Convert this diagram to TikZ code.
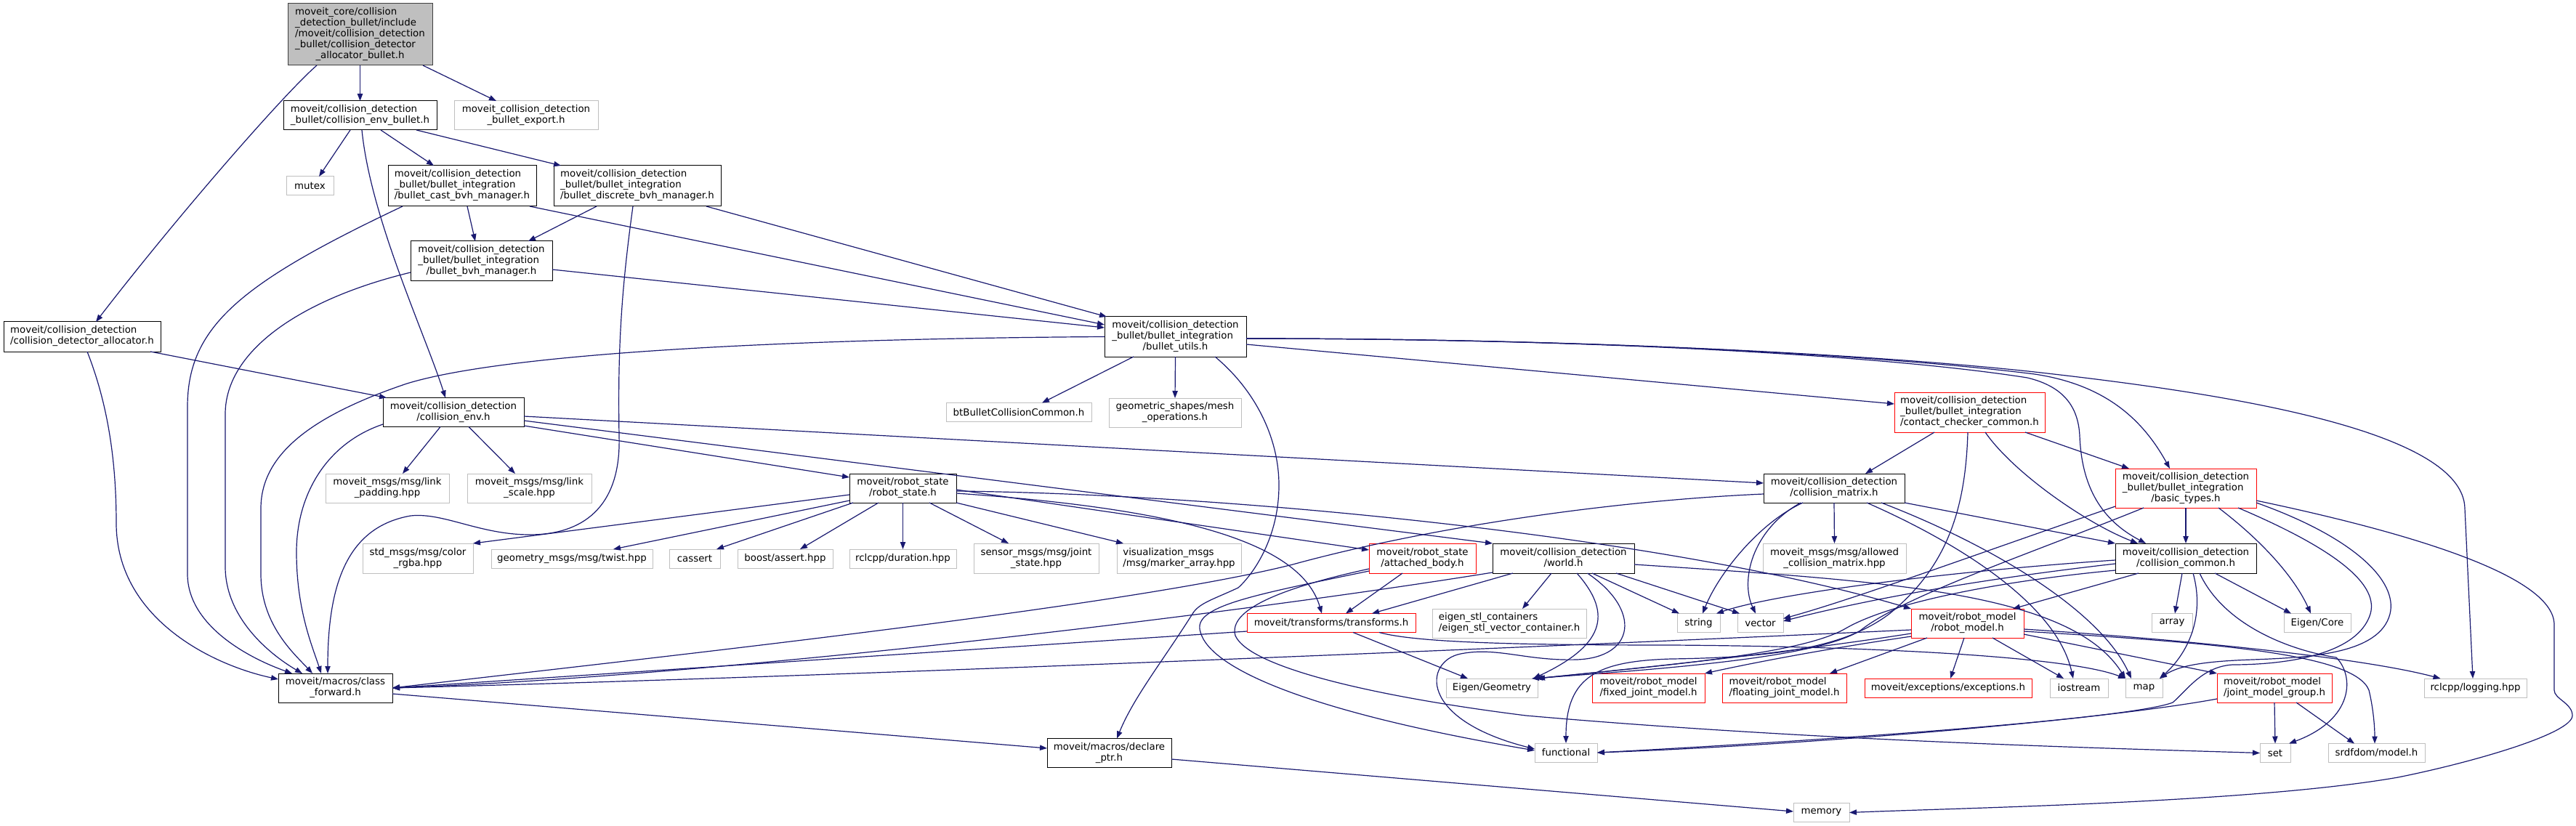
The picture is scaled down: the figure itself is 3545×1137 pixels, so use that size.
\documentclass[tikz,border=0pt]{standalone}
\usepackage{fontspec}
\setmainfont{DejaVu Sans}
\usetikzlibrary{arrows.meta}
\definecolor{eb}{HTML}{191970}
\definecolor{xg}{HTML}{BFBFBF}
\definecolor{rootfill}{HTML}{BFBFBF}
\definecolor{rootdraw}{HTML}{404040}
\definecolor{rr}{HTML}{FF0000}
\newcommand{\mlab}[2]{\begin{tabular}{@{}l@{}}#1\\\multicolumn{1}{@{}c@{}}{#2}\end{tabular}}
\begin{document}
\begin{tikzpicture}[x=0.75pt,y=-0.75pt,
  every node/.style={font=\fontsize{10pt}{11.25pt}\selectfont, inner sep=0pt, outer sep=0pt, rectangle, line width=0.75pt},
  sz/.style 2 args={minimum width={#1*0.75pt}, minimum height={#2*0.75pt}},
  nbox/.style={draw=black, fill=white},
  xbox/.style={draw=xg, fill=white},
  rbox/.style={draw=rr, fill=white},
  rootbox/.style={draw=rootdraw, fill=rootfill},
  dep/.style={draw=eb, line width=0.9pt, -{Triangle[length=7.5pt,width=5.5pt,fill=eb]}}]
\fill[white] (0,0) rectangle (3545,1137);
\useasboundingbox (0,0) rectangle (3545,1137);

% ---------------- nodes ----------------
\node[rootbox, sz={199}{85}] (root) at (495.5,47.5) {\mlab{moveit\_core/collision\\\_detection\_bullet/include\\/moveit/collision\_detection\\\_bullet/collision\_detector}{\_allocator\_bullet.h}};
\node[nbox, sz={211}{40}] (envb) at (495.5,159) {\mlab{moveit/collision\_detection}{\_bullet/collision\_env\_bullet.h}};
\node[xbox, sz={198}{40}] (export) at (724,159) {\mlab{moveit\_collision\_detection}{\_bullet\_export.h}};
\node[xbox, sz={65}{26}] (mutex) at (426.5,256) {mutex};
\node[nbox, sz={204}{56}] (cast) at (636,256) {\mlab{moveit/collision\_detection\\\_bullet/bullet\_integration}{/bullet\_cast\_bvh\_manager.h}};
\node[nbox, sz={230}{56}] (disc) at (877,256) {\mlab{moveit/collision\_detection\\\_bullet/bullet\_integration}{/bullet\_discrete\_bvh\_manager.h}};
\node[nbox, sz={195}{55}] (bvh) at (662.5,359.5) {\mlab{moveit/collision\_detection\\\_bullet/bullet\_integration}{/bullet\_bvh\_manager.h}};
\node[nbox, sz={216}{41}] (alloc) at (113,463.5) {\mlab{moveit/collision\_detection}{/collision\_detector\_allocator.h}};
\node[nbox, sz={195}{55}] (utils) at (1617.5,463.5) {\mlab{moveit/collision\_detection\\\_bullet/bullet\_integration}{/bullet\_utils.h}};
\node[xbox, sz={200}{26}] (btb) at (1402,567.5) {btBulletCollisionCommon.h};
\node[xbox, sz={182}{40}] (geom) at (1617,568) {\mlab{geometric\_shapes/mesh}{\_operations.h}};
\node[rbox, sz={207}{55}] (contact) at (2710.5,567.5) {\mlab{moveit/collision\_detection\\\_bullet/bullet\_integration}{/contact\_checker\_common.h}};
\node[nbox, sz={194}{40}] (cenv) at (624,567.5) {\mlab{moveit/collision\_detection}{/collision\_env.h}};
\node[xbox, sz={170}{40}] (lpad) at (533,672) {\mlab{moveit\_msgs/msg/link}{\_padding.hpp}};
\node[xbox, sz={171}{40}] (lscale) at (728.5,672) {\mlab{moveit\_msgs/msg/link}{\_scale.hpp}};
\node[nbox, sz={147}{40}] (rstate) at (1242.5,672) {\mlab{moveit/robot\_state}{/robot\_state.h}};
\node[nbox, sz={194}{40}] (cmatrix) at (2524,672) {\mlab{moveit/collision\_detection}{/collision\_matrix.h}};
\node[rbox, sz={194}{54}] (btypes) at (3008,672) {\mlab{moveit/collision\_detection\\\_bullet/bullet\_integration}{/basic\_types.h}};
\node[xbox, sz={152}{41}] (rgba) at (575,768.5) {\mlab{std\_msgs/msg/color}{\_rgba.hpp}};
\node[xbox, sz={222}{26}] (twist) at (787,769) {geometry\_msgs/msg/twist.hpp};
\node[xbox, sz={70}{26}] (cassert) at (956,769) {cassert};
\node[xbox, sz={131}{26}] (bassert) at (1080.5,769) {boost/assert.hpp};
\node[xbox, sz={147}{26}] (dur) at (1242.5,769) {rclcpp/duration.hpp};
\node[xbox, sz={172}{41}] (jstate) at (1426,768.5) {\mlab{sensor\_msgs/msg/joint}{\_state.hpp}};
\node[xbox, sz={171}{41}] (marker) at (1622.5,768.5) {\mlab{visualization\_msgs}{/msg/marker\_array.hpp}};
\node[rbox, sz={147}{41}] (abody) at (1957.5,768.5) {\mlab{moveit/robot\_state}{/attached\_body.h}};
\node[nbox, sz={195}{41}] (world) at (2151.5,768.5) {\mlab{moveit/collision\_detection}{/world.h}};
\node[xbox, sz={197}{41}] (allowed) at (2524.5,768.5) {\mlab{moveit\_msgs/msg/allowed}{\_collision\_matrix.hpp}};
\node[nbox, sz={194}{41}] (ccommon) at (3008,768.5) {\mlab{moveit/collision\_detection}{/collision\_common.h}};
\node[rbox, sz={232}{26}] (transf) at (1832,857.5) {moveit/transforms/transforms.h};
\node[xbox, sz={212}{40}] (estl) at (2077,858) {\mlab{eigen\_stl\_containers}{/eigen\_stl\_vector\_container.h}};
\node[xbox, sz={59}{26}] (string) at (2337.5,857.5) {string};
\node[xbox, sz={63}{26}] (vector) at (2422.5,857.5) {vector};
\node[rbox, sz={155}{40}] (rmodel) at (2707.5,858) {\mlab{moveit/robot\_model}{/robot\_model.h}};
\node[xbox, sz={56}{26}] (array) at (2989,857.5) {array};
\node[xbox, sz={92}{26}] (ecore) at (3189,857.5) {Eigen/Core};
\node[xbox, sz={126}{26}] (egeom) at (2053,947) {Eigen/Geometry};
\node[rbox, sz={155}{40}] (fixed) at (2268.5,947) {\mlab{moveit/robot\_model}{/fixed\_joint\_model.h}};
\node[rbox, sz={171}{40}] (floating) at (2455.5,947) {\mlab{moveit/robot\_model}{/floating\_joint\_model.h}};
\node[rbox, sz={230}{26}] (exc) at (2681,947) {moveit/exceptions/exceptions.h};
\node[xbox, sz={80}{26}] (iostream) at (2861,947) {iostream};
\node[xbox, sz={51}{26}] (map) at (2950.5,947) {map};
\node[rbox, sz={158}{40}] (jmg) at (3130,947) {\mlab{moveit/robot\_model}{/joint\_model\_group.h}};
\node[xbox, sz={141}{26}] (logging) at (3406.5,947) {rclcpp/logging.hpp};
\node[nbox, sz={157}{40}] (cfwd) at (461.5,947) {\mlab{moveit/macros/class}{\_forward.h}};
\node[xbox, sz={86}{26}] (func) at (2155,1036) {functional};
\node[xbox, sz={42}{26}] (set) at (3131,1036.5) {set};
\node[xbox, sz={133}{26}] (srdf) at (3270.5,1036.5) {srdfdom/model.h};
\node[nbox, sz={171}{40}] (declp) at (1526.5,1036.5) {\mlab{moveit/macros/declare}{\_ptr.h}};
\node[xbox, sz={77}{26}] (memory) at (2506.5,1118.5) {memory};

% ---------------- edges ----------------
% root
\draw[dep] (root.south) -- (envb.north);
\draw[dep] ([shift={(86.5,0)}]root.south) -- ([shift={(-41,0)}]export.north);
\draw[dep] ([shift={(-59.5,0)}]root.south) .. controls (395,125) and (250,290) .. ([shift={(19,0)}]alloc.north);
% collision_env_bullet
\draw[dep] ([shift={(-13.5,0)}]envb.south) -- ([shift={(12.5,0)}]mutex.north);
\draw[dep] ([shift={(28.5,0)}]envb.south) -- ([shift={(-39,0)}]cast.north);
\draw[dep] ([shift={(77.5,0)}]envb.south) -- ([shift={(-105,0)}]disc.north);
\draw[dep] ([shift={(2.5,0)}]envb.south) .. controls (510,300) and (585,460) .. ([shift={(-11,0)}]cenv.north);
% cast
\draw[dep] ([shift={(7,0)}]cast.south) -- ([shift={(-8.5,0)}]bvh.north);
\draw[dep] ([shift={(-82,0)}]cast.south) .. controls (330,390) and (258,450) .. (258,560) -- (258,790) .. controls (258,860) and (340,905) .. ([shift={(-59.5,0)}]cfwd.north);
\draw[dep] ([shift={(93,0)}]cast.south) -- ([shift={(0,-16.5)}]utils.west);
% discrete
\draw[dep] ([shift={(-56,0)}]disc.south) -- ([shift={(64.5,0)}]bvh.north);
\draw[dep] ([shift={(95,0)}]disc.south) -- ([shift={(-94.5,0)}]utils.north);
\draw[dep] ([shift={(-6,0)}]disc.south) .. controls (855,400) and (850,480) .. (852,600) .. controls (855,700) and (800,736) .. (729,736) .. controls (660,736) and (610,705) .. (565,710) .. controls (480,725) and (451,800) .. ([shift={(-10.5,0)}]cfwd.north);
% bvh
\draw[dep] ([shift={(0,11.5)}]bvh.east) -- ([shift={(0,-12.5)}]utils.west);
\draw[dep] ([shift={(0,15.5)}]bvh.west) .. controls (420,410) and (310,480) .. (310,570) -- (310,780) .. controls (310,850) and (370,900) .. ([shift={(-45.5,0)}]cfwd.north);
% allocator
\draw[dep] ([shift={(94,0)}]alloc.south) -- ([shift={(5,0)}]cenv.north west);
\draw[dep] ([shift={(7,0)}]alloc.south) .. controls (150,560) and (160,640) .. (160,720) .. controls (160,850) and (290,915) .. ([shift={(0,-12)}]cfwd.west);
% bullet_utils
\draw[dep] (utils.west) .. controls (1100,466) and (700,485) .. (560,528) .. controls (420,575) and (359,630) .. (359,700) -- (359,790) .. controls (359,860) and (405,900) .. ([shift={(-31.5,0)}]cfwd.north);
\draw[dep] ([shift={(-57.5,0)}]utils.south) -- ([shift={(32,0)}]btb.north);
\draw[dep] (utils.south) -- (geom.north);
\draw[dep] ([shift={(54.5,0)}]utils.south) .. controls (1725,535) and (1760,600) .. (1760,668) .. controls (1760,740) and (1725,790) .. (1704,809) .. controls (1670,825) and (1650,830) .. (1641,845) .. controls (1600,910) and (1560,960) .. ([shift={(10.5,0)}]declp.north);
\draw[dep] ([shift={(0,10.5)}]utils.east) -- ([shift={(0,-11.5)}]contact.west);
\draw[dep] ([shift={(0,2.5)}]utils.east) .. controls (2200,466) and (2600,490) .. (2800,515) .. controls (2900,530) and (2950,580) .. ([shift={(-22,0)}]btypes.north);
\draw[dep] ([shift={(0,2.5)}]utils.east) .. controls (2200,466) and (2600,490) .. (2790,520) .. controls (2840,532) and (2860,560) .. (2862,600) .. controls (2865,680) and (2900,720) .. ([shift={(-55,0)}]ccommon.north);
\draw[dep] ([shift={(0,2.5)}]utils.east) .. controls (2200,466) and (2600,490) .. (2800,512) .. controls (3050,540) and (3390,590) .. (3392,700) -- ([shift={(-3.5,0)}]logging.north);
% collision_env
\draw[dep] ([shift={(-18,0)}]cenv.south) -- ([shift={(21,0)}]lpad.north);
\draw[dep] ([shift={(21,0)}]cenv.south) -- ([shift={(-19.5,0)}]lscale.north);
\draw[dep] ([shift={(0,16.5)}]cenv.west) .. controls (450,610) and (408,680) .. (408,760) .. controls (408,840) and (430,890) .. ([shift={(-19.5,0)}]cfwd.north);
\draw[dep] ([shift={(0,18.5)}]cenv.east) -- ([shift={(0,-15)}]rstate.west);
\draw[dep] ([shift={(0,5.5)}]cenv.east) -- ([shift={(0,-7)}]cmatrix.west);
\draw[dep] ([shift={(0,11.5)}]cenv.east) -- (world.north west);
% robot_state
\draw[dep] ([shift={(0,9)}]rstate.west) -- (rgba.north east);
\draw[dep] ([shift={(0,17)}]rstate.west) -- ([shift={(57,0)}]twist.north);
\draw[dep] ([shift={(-68.5,0)}]rstate.south) -- ([shift={(30,0)}]cassert.north);
\draw[dep] ([shift={(-33.5,0)}]rstate.south) -- ([shift={(20.5,0)}]bassert.north);
\draw[dep] (rstate.south) -- (dur.north);
\draw[dep] ([shift={(36.5,0)}]rstate.south) -- ([shift={(-38,0)}]jstate.north);
\draw[dep] (rstate.south east) -- ([shift={(-76.5,0)}]marker.north);
\draw[dep] ([shift={(0,2)}]rstate.east) -- ([shift={(0,-11.5)}]abody.west);
\draw[dep] ([shift={(0,7)}]rstate.east) .. controls (1620,700) and (1790,745) .. ([shift={(-13,0)}]transf.north);
\draw[dep] ([shift={(0,4)}]rstate.east) .. controls (1700,680) and (2300,740) .. (rmodel.north west);
% contact_checker_common
\draw[dep] ([shift={(-48.5,0)}]contact.south) -- ([shift={(43,0)}]cmatrix.north);
\draw[dep] ([shift={(76.5,0)}]contact.south) -- ([shift={(-78,0)}]btypes.north);
\draw[dep] ([shift={(21.5,0)}]contact.south) .. controls (2770,650) and (2870,720) .. ([shift={(-66,0)}]ccommon.north);
\draw[dep] ([shift={(-2.5,0)}]contact.south) .. controls (2705,700) and (2680,780) .. (2600,845) .. controls (2540,890) and (2450,905) .. (2300,907) .. controls (2200,910) and (2155,930) .. (func.north);
% collision_matrix
\draw[dep] (cmatrix.south) -- (allowed.north);
\draw[dep] ([shift={(-43,0)}]cmatrix.south) .. controls (2420,720) and (2365,790) .. ([shift={(5.5,0)}]string.north);
\draw[dep] ([shift={(-46,0)}]cmatrix.south) .. controls (2410,730) and (2395,800) .. ([shift={(-6.5,0)}]vector.north);
\draw[dep] (cmatrix.south east) -- (ccommon.north west);
\draw[dep] ([shift={(0,8)}]cmatrix.west) .. controls (2200,690) and (1950,730) .. (1779,777) .. controls (1550,835) and (900,905) .. (cfwd.east);
\draw[dep] ([shift={(45,0)}]cmatrix.south) .. controls (2690,745) and (2830,830) .. ([shift={(-8,0)}]iostream.north);
\draw[dep] ([shift={(65,0)}]cmatrix.south) .. controls (2740,750) and (2890,840) .. ([shift={(-17.5,0)}]map.north);
% collision_common
\draw[dep] ([shift={(-5,0)}]ccommon.south) -- ([shift={(4,0)}]array.north);
\draw[dep] ([shift={(10,0)}]ccommon.south) .. controls (3035,850) and (3010,900) .. ([shift={(21.5,0)}]map.north);
\draw[dep] ([shift={(19,0)}]ccommon.south) .. controls (3060,860) and (3150,895) .. (3215,905) .. controls (3240,930) and (3240,990) .. ([shift={(-2,0)}]set.north east);
\draw[dep] ([shift={(40,0)}]ccommon.south) -- ([shift={(-36,0)}]ecore.north);
\draw[dep] ([shift={(-65,0)}]ccommon.south) -- ([shift={(62.5,0)}]rmodel.north);
\draw[dep] ([shift={(0,2.5)}]ccommon.west) .. controls (2700,785) and (2450,815) .. ([shift={(-5,0)}]string.north east);
\draw[dep] ([shift={(0,7.5)}]ccommon.west) .. controls (2700,800) and (2550,830) .. ([shift={(0,-2.5)}]vector.east);
\draw[dep] ([shift={(0,16.5)}]ccommon.west) .. controls (2750,800) and (2600,830) .. (2540,865) .. controls (2480,900) and (2300,915) .. ([shift={(-3,0)}]egeom.north east);
% basic_types
\draw[dep] (btypes.south) -- (ccommon.north);
\draw[dep] ([shift={(45,0)}]btypes.south) .. controls (3120,750) and (3160,800) .. ([shift={(-9,0)}]ecore.north);
\draw[dep] ([shift={(0,17)}]btypes.east) .. controls (3300,730) and (3515,790) .. (3515,860) -- (3515,950) .. controls (3515,962) and (3540,968) .. (3540,985) .. controls (3540,1010) and (3400,1050) .. (3300,1070) .. controls (3100,1105) and (2700,1112) .. (memory.east);
\draw[dep] ([shift={(72,0)}]btypes.south) .. controls (3200,750) and (3275,800) .. (3262,845) .. controls (3245,900) and (3150,915) .. (3072,915) .. controls (3030,918) and (3010,950) .. (2990,967) .. controls (2930,990) and (2500,1020) .. (func.east);
\draw[dep] ([shift={(0,20)}]btypes.east) .. controls (3240,740) and (3300,800) .. (3289,845) .. controls (3275,900) and (3180,905) .. (3100,908) .. controls (3040,910) and (3000,915) .. ([shift={(-4,0)}]map.north east);
\draw[dep] ([shift={(0,25)}]btypes.west) .. controls (2700,770) and (2550,825) .. ([shift={(0,-6)}]vector.east);
\draw[dep] ([shift={(-58,0)}]btypes.south) .. controls (2800,760) and (2620,820) .. (2560,868) .. controls (2500,905) and (2300,920) .. ([shift={(-8,0)}]egeom.north east);
% world
\draw[dep] ([shift={(-69.5,0)}]world.south) -- ([shift={(56,0)}]transf.north);
\draw[dep] ([shift={(-16.5,0)}]world.south) -- ([shift={(18,0)}]estl.north);
\draw[dep] ([shift={(39.5,0)}]world.south) -- ([shift={(3,0)}]string.north west);
\draw[dep] ([shift={(72.5,0)}]world.south) -- ([shift={(3,0)}]vector.north west);
\draw[dep] ([shift={(18.5,0)}]world.south) .. controls (2215,840) and (2215,885) .. ([shift={(-6,0)}]egeom.north east);
\draw[dep] ([shift={(33,0)}]world.south) .. controls (2260,840) and (2250,905) .. (2170,908) .. controls (2100,910) and (2060,890) .. (2010,900) .. controls (1960,910) and (1950,990) .. ([shift={(0,-5)}]func.west);
\draw[dep] ([shift={(0,19.5)}]world.west) .. controls (1700,845) and (1000,930) .. (cfwd.east);
\draw[dep] ([shift={(0,8.5)}]world.east) .. controls (2600,800) and (2850,815) .. (map.north west);
% attached_body
\draw[dep] ([shift={(-27.5,0)}]abody.south) -- ([shift={(20,0)}]transf.north);
\draw[dep] ([shift={(0,17.5)}]abody.west) .. controls (1720,820) and (1640,835) .. (1652,870) .. controls (1665,920) and (1800,980) .. ([shift={(0,-3)}]func.west);
\draw[dep] ([shift={(0,14.5)}]abody.west) .. controls (1760,810) and (1690,840) .. (1700,875) .. controls (1720,920) and (1900,960) .. (2100,985) .. controls (2500,1020) and (2900,1030) .. (set.west);
% transforms
\draw[dep] ([shift={(30,0)}]transf.south) -- ([shift={(-33,0)}]egeom.north);
\draw[dep] ([shift={(0,11.5)}]transf.west) -- (cfwd.east);
\draw[dep] ([shift={(66,0)}]transf.south) .. controls (1950,885) and (2100,888) .. (2300,888) .. controls (2600,890) and (2850,905) .. (map.north west);
% robot_model
\draw[dep] ([shift={(0,9)}]rmodel.west) .. controls (2200,887) and (1200,930) .. (cfwd.east);
\draw[dep] ([shift={(0,14)}]rmodel.west) .. controls (2450,900) and (2250,920) .. (egeom.north east);
\draw[dep] ([shift={(0,18)}]rmodel.west) .. controls (2500,895) and (2400,915) .. (fixed.north east);
\draw[dep] ([shift={(-55.5,0)}]rmodel.south) -- ([shift={(62.5,0)}]floating.north);
\draw[dep] ([shift={(-4.5,0)}]rmodel.south) -- ([shift={(3,0)}]exc.north);
\draw[dep] ([shift={(34.5,0)}]rmodel.south) -- ([shift={(-21,0)}]iostream.north);
\draw[dep] ([shift={(0,8)}]rmodel.east) .. controls (3000,880) and (3250,905) .. ([shift={(-48,0)}]logging.north);
\draw[dep] ([shift={(0,15)}]rmodel.east) -- (jmg.north west);
\draw[dep] ([shift={(0,11)}]rmodel.east) .. controls (3050,885) and (3240,900) .. (3260,950) .. controls (3266,975) and (3268,1000) .. ([shift={(-2.5,0)}]srdf.north);
% joint_model_group
\draw[dep] (jmg.south) -- (set.north);
\draw[dep] ([shift={(30,0)}]jmg.south) -- ([shift={(-30.5,0)}]srdf.north);
\draw[dep] ([shift={(0,15)}]jmg.west) .. controls (2900,990) and (2500,1025) .. (func.east);
% macros
\draw[dep] ([shift={(0,8)}]cfwd.east) -- ([shift={(0,-6.5)}]declp.west);
\draw[dep] ([shift={(0,8.5)}]declp.east) -- ([shift={(0,-1.5)}]memory.west);
\end{tikzpicture}
\end{document}
